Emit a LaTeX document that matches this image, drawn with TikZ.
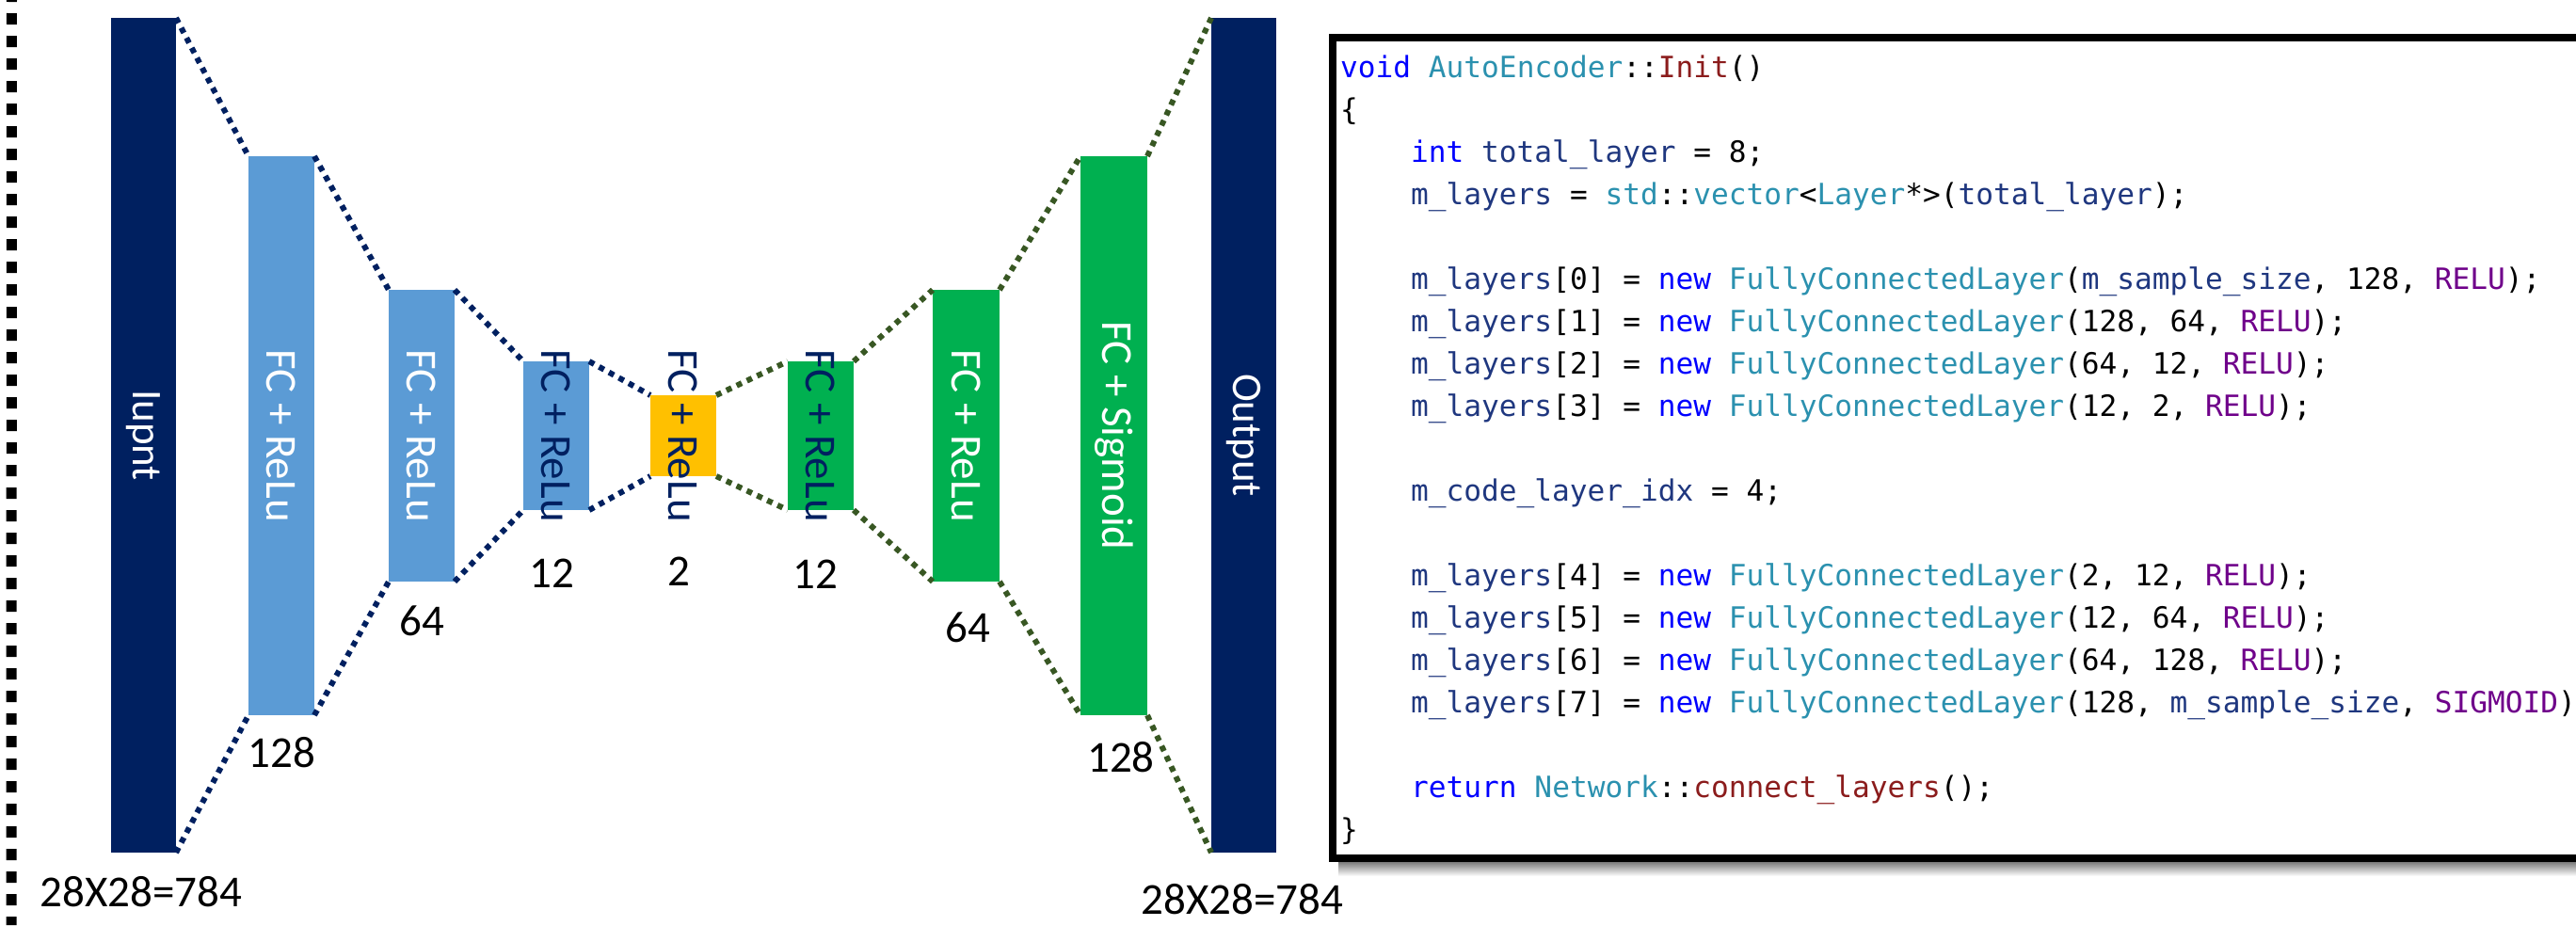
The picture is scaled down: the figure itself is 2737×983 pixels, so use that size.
\documentclass[tikz,border=0pt]{standalone}
\usepackage{fontspec}
\setmainfont{Carlito}
\newfontfamily\codefont{DejaVu Sans Mono}
\definecolor{navy}{HTML}{002060}
\definecolor{lblue}{HTML}{5B9BD5}
\definecolor{gold}{HTML}{FFC000}
\definecolor{fgreen}{HTML}{00B050}
\definecolor{dgreen}{HTML}{385723}
\definecolor{ckw}{HTML}{0000FF}
\definecolor{cty}{HTML}{2B91AF}
\definecolor{cfn}{HTML}{8B1C1C}
\definecolor{cva}{HTML}{1F377F}
\definecolor{cen}{HTML}{6F008A}
\newcommand{\ckw}[1]{\textcolor{ckw}{#1}}
\newcommand{\cty}[1]{\textcolor{cty}{#1}}
\newcommand{\cfn}[1]{\textcolor{cfn}{#1}}
\newcommand{\cva}[1]{\textcolor{cva}{#1}}
\newcommand{\cen}[1]{\textcolor{cen}{#1}}
\tikzset{
  bar/.style={rectangle, inner sep=0pt, outer sep=0pt, draw=none},
  bartext/.style={rotate=-90, inner sep=0pt, font=\fontsize{47}{56}\selectfont},
  iotext/.style={rotate=-90, inner sep=0pt, text=white, font=\fontsize{45}{54}\selectfont},
  numtext/.style={anchor=base, inner sep=0pt, font=\fontsize{47}{56}\selectfont},
  encdot/.style={draw=navy, line width=6pt, dash pattern=on 6pt off 6pt},
  decdot/.style={draw=dgreen, line width=6pt, dash pattern=on 6pt off 6pt},
  codeline/.style={anchor=base west, inner sep=0pt, font=\codefont\fontsize{31.15}{45}\selectfont},
}
\begin{document}
\begin{tikzpicture}[x=1pt,y=-1pt]
\useasboundingbox (0,0) rectangle (2737,983);
\clip (0,0) rectangle (2737,983);
% left dashed border
\coordinate (bt) at (12.5,0);
\coordinate (bb) at (12,983);
\draw[line width=11pt, dash pattern=on 12pt off 12pt, dash phase=10pt] (bt) -- (bb);

% bars
\node[bar, fill=navy,   minimum width=69pt, minimum height=887pt] (in)   at (152.5,462.5) {};
\node[bar, fill=lblue,  minimum width=70pt, minimum height=594pt] (fc1)  at (299,463) {};
\node[bar, fill=lblue,  minimum width=70pt, minimum height=310pt] (fc2)  at (448,463) {};
\node[bar, fill=lblue,  minimum width=70pt, minimum height=158pt] (fc3)  at (591,463) {};
\node[bar, fill=gold,   minimum width=70pt, minimum height=86pt]  (code) at (726,463) {};
\node[bar, fill=fgreen, minimum width=70pt, minimum height=158pt] (d1)   at (872,463) {};
\node[bar, fill=fgreen, minimum width=71pt, minimum height=310pt] (d2)   at (1026.5,463) {};
\node[bar, fill=fgreen, minimum width=71pt, minimum height=594pt] (sig)  at (1183.5,463) {};
\node[bar, fill=navy,   minimum width=69pt, minimum height=887pt] (out)  at (1321.5,462.5) {};

% connectors
\foreach \a/\b in {in/fc1, fc1/fc2, fc2/fc3, fc3/code}{
  \draw[encdot] (\a.north east) -- (\b.north west);
  \draw[encdot] (\a.south east) -- (\b.south west);
}
\foreach \a/\b in {code/d1, d1/d2, d2/sig, sig/out}{
  \draw[decdot] (\a.north east) -- (\b.north west);
  \draw[decdot] (\a.south east) -- (\b.south west);
}

% bar texts
\node[iotext] (int) at (in.center) {Iupnt};
\node[bartext, text=white] (fc1t) at (fc1.center) {FC + ReLu};
\node[bartext, text=white] (fc2t) at (fc2.center) {FC + ReLu};
\node[bartext, text=navy] (fc3t) at (fc3.center) {FC + ReLu};
\node[bartext, text=navy] (codet) at (code.center) {FC + ReLu};
\node[bartext, text=navy] (d1t) at (d1.center) {FC + ReLu};
\node[bartext, text=white] (d2t) at (d2.center) {FC + ReLu};
\node[bartext, text=white] (sigt) at (sig.center) {FC + Sigmoid};
\node[iotext] (outt) at (out.center) {Output};

% size labels
\node[numtext] (n0) at (150,963) {28X28=784};
\node[numtext] (n1) at (299.5,815) {128};
\node[numtext] (n2) at (448,675) {64};
\node[numtext] (n3) at (586,624) {12};
\node[numtext] (n4) at (721,622) {2};
\node[numtext] (n5) at (866,625) {12};
\node[numtext] (n6) at (1028,682) {64};
\node[numtext] (n7) at (1191,820) {128};
\node[numtext] (n8) at (1320,971) {28X28=784};

% code box
\shade[top color=black!55, bottom color=white] (1422,915) rectangle (2737,931);
\coordinate (cbtl) at (1416,40);
\coordinate (cbbr) at (2800,912);
\draw[line width=8pt, fill=white] (cbtl) rectangle (cbbr);

\node[codeline] (c0)  at (1424,82)  {\ckw{void} \cty{AutoEncoder}::\cfn{Init}()};
\node[codeline] (c1)  at (1424,127) {\{};
\node[codeline] (c2)  at (1499,172) {\ckw{int} \cva{total\_layer} = 8;};
\node[codeline] (c3)  at (1499,217) {\cva{m\_layers} = \cty{std}::\cty{vector}<\cty{Layer}*>(\cva{total\_layer});};
\node[codeline] (c5)  at (1499,307) {\cva{m\_layers}[0] = \ckw{new} \cty{FullyConnectedLayer}(\cva{m\_sample\_size}, 128, \cen{RELU});};
\node[codeline] (c6)  at (1499,352) {\cva{m\_layers}[1] = \ckw{new} \cty{FullyConnectedLayer}(128, 64, \cen{RELU});};
\node[codeline] (c7)  at (1499,397) {\cva{m\_layers}[2] = \ckw{new} \cty{FullyConnectedLayer}(64, 12, \cen{RELU});};
\node[codeline] (c8)  at (1499,442) {\cva{m\_layers}[3] = \ckw{new} \cty{FullyConnectedLayer}(12, 2, \cen{RELU});};
\node[codeline] (c10) at (1499,532) {\cva{m\_code\_layer\_idx} = 4;};
\node[codeline] (c12) at (1499,622) {\cva{m\_layers}[4] = \ckw{new} \cty{FullyConnectedLayer}(2, 12, \cen{RELU});};
\node[codeline] (c13) at (1499,667) {\cva{m\_layers}[5] = \ckw{new} \cty{FullyConnectedLayer}(12, 64, \cen{RELU});};
\node[codeline] (c14) at (1499,712) {\cva{m\_layers}[6] = \ckw{new} \cty{FullyConnectedLayer}(64, 128, \cen{RELU});};
\node[codeline] (c15) at (1499,757) {\cva{m\_layers}[7] = \ckw{new} \cty{FullyConnectedLayer}(128, \cva{m\_sample\_size}, \cen{SIGMOID});};
\node[codeline] (c17) at (1499,847) {\ckw{return} \cty{Network}::\cfn{connect\_layers}();};
\node[codeline] (c18) at (1424,892) {\}};
\end{tikzpicture}
\end{document}
